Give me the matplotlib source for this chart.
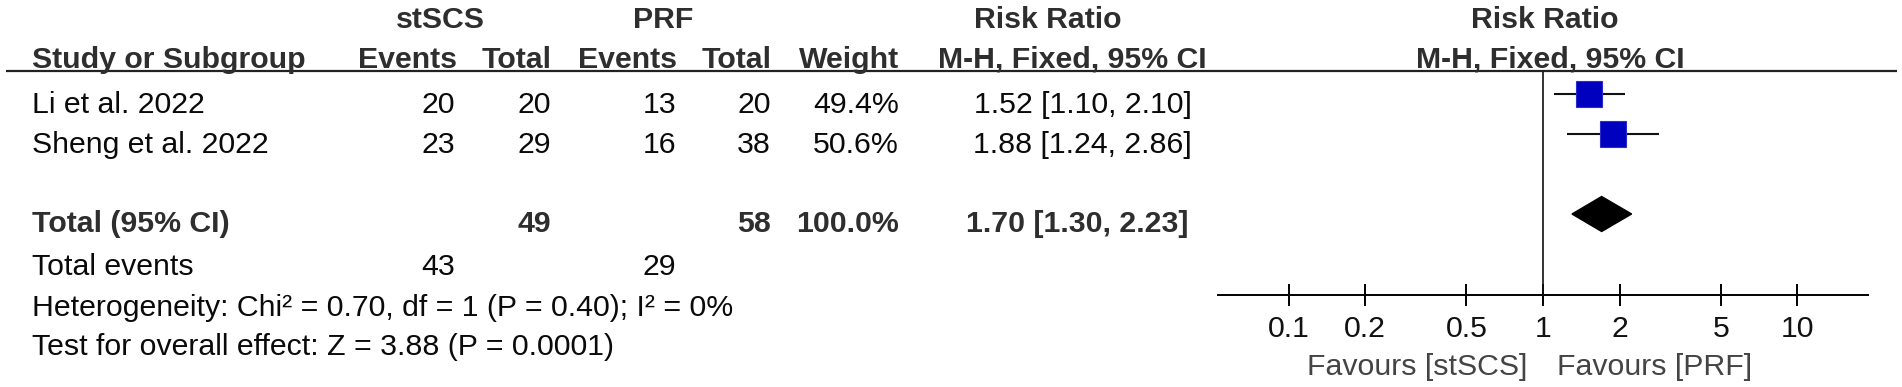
import matplotlib
matplotlib.use("Agg")
import matplotlib.pyplot as plt
import numpy as np

# Study data
studies = ["Li et al. 2022", "Sheng et al. 2022"]
scs_events = [20, 23]
scs_total = [20, 29]
prf_events = [13, 16]
prf_total = [20, 38]
weights = [49.4, 50.6]
rr = [1.52, 1.88]
ci_low = [1.10, 1.24]
ci_high = [2.10, 2.86]

# Pooled result
total_scs = 49
total_prf = 58
events_scs = 43
events_prf = 29
pooled = [1.70, 1.30, 2.23]
heterogeneity = "Heterogeneity: Chi² = 0.70, df = 1 (P = 0.40); I² = 0%"
overall = "Test for overall effect: Z = 3.88 (P = 0.0001)"

ticks = [0.1, 0.2, 0.5, 1, 2, 5, 10]
tick_labels = ["0.1", "0.2", "0.5", "1", "2", "5", "10"]
favours = ["Favours [stSCS]", "Favours [PRF]"]

W, H = 1902, 387
FS = 21.8
plt.rcParams['font.family'] = ['Liberation Sans', 'DejaVu Sans']

fig = plt.figure(figsize=(W / 100, H / 100), dpi=100)
bg = fig.add_axes([0, 0, 1, 1])
bg.set_xlim(0, W)
bg.set_ylim(H, 0)
bg.axis('off')

head = dict(fontsize=FS, fontweight='bold', color='#2e2e2e', va='baseline')
body = dict(fontsize=FS, color='#0a0a0a', va='baseline')

# column right edges (px)
c_se, c_st, c_pe, c_pt, c_w, c_rr = 455, 551, 676, 771, 899, 1192

# headers
bg.text(440, 28, "stSCS", ha='center', **head)
bg.text(663, 28, "PRF", ha='center', **head)
bg.text(1048, 28, "Risk Ratio", ha='center', **head)
bg.text(1545, 28, "Risk Ratio", ha='center', **head)
bg.text(32, 68, "Study or Subgroup", ha='left', **head)
bg.text(457, 68, "Events", ha='right', **head)
bg.text(552, 68, "Total", ha='right', **head)
bg.text(677, 68, "Events", ha='right', **head)
bg.text(772, 68, "Total", ha='right', **head)
bg.text(899, 68, "Weight", ha='right', **head)
bg.text(1072, 68, "M-H, Fixed, 95% CI", ha='center', **head)
bg.text(1550, 68, "M-H, Fixed, 95% CI", ha='center', **head)
bg.hlines(71, 6, 1897, color='#222222', lw=1.6)

# study rows
row_base = [113, 153]
for i, name in enumerate(studies):
    y = row_base[i]
    bg.text(32, y, name, ha='left', **body)
    bg.text(c_se, y, str(scs_events[i]), ha='right', **body)
    bg.text(c_st, y, str(scs_total[i]), ha='right', **body)
    bg.text(c_pe, y, str(prf_events[i]), ha='right', **body)
    bg.text(c_pt, y, str(prf_total[i]), ha='right', **body)
    bg.text(c_w, y, f"{weights[i]:.1f}%", ha='right', **body)
    bg.text(c_rr, y, f"{rr[i]:.2f} [{ci_low[i]:.2f}, {ci_high[i]:.2f}]", ha='right', **body)

# total row
bg.text(32, 232, "Total (95% CI)", ha='left', **head)
bg.text(c_st, 232, str(total_scs), ha='right', **head)
bg.text(c_pt, 232, str(total_prf), ha='right', **head)
bg.text(c_w, 232, f"{sum(weights):.1f}%", ha='right', **head)
bg.text(c_rr - 4, 232, f"{pooled[0]:.2f} [{pooled[1]:.2f}, {pooled[2]:.2f}]", ha='right', **head)

bg.text(32, 275, "Total events", ha='left', **body)
bg.text(c_se, 275, str(events_scs), ha='right', **body)
bg.text(c_pe, 275, str(events_prf), ha='right', **body)
bg.text(32, 316, heterogeneity, ha='left', **body)
bg.text(32, 355, overall, ha='left', **body)

# forest panel (log scale)
x0, xw = 1212, 662
ax = fig.add_axes([x0 / W, 0, xw / W, 1])
ax.set_xscale('log')
ax.set_xlim(0.05, 20)
ax.set_ylim(H, 0)
ax.patch.set_visible(False)
for s in ['top', 'left', 'right']:
    ax.spines[s].set_visible(False)
ax.spines['bottom'].set_position(('data', 295))
ax.spines['bottom'].set_bounds(0.053, 19)
ax.spines['bottom'].set_linewidth(1.4)
ax.set_yticks([])
ax.set_xticks(ticks)
ax.set_xticklabels([])
ax.tick_params(axis='x', which='both', direction='inout', length=16, width=1.4)
ax.minorticks_off()

ax.vlines(1, 72, 295, color='#111111', lw=1.2)

mark_y = [94, 134]
for i in range(len(studies)):
    ax.hlines(mark_y[i], ci_low[i], ci_high[i], color='#111111', lw=1.5)
    side_px = 25.5 * np.sqrt(weights[i] / 50)
    ax.plot(rr[i], mark_y[i], marker='s', ms=side_px * 0.72,
            mfc='#0000BF', mec='#2a2ad0', mew=0.8)

dy = 214
ax.fill([pooled[1], pooled[0], pooled[2], pooled[0]],
        [dy, dy - 17.5, dy, dy + 17.5], color='black')

for t, lab in zip(ticks, tick_labels):
    ax.text(t, 337, lab, ha='center', va='baseline', fontsize=FS, color='#111111')
ax.text(0.865, 375, favours[0], ha='right', va='baseline', fontsize=FS, color='#444444')
ax.text(1.135, 375, favours[1], ha='left', va='baseline', fontsize=FS, color='#444444')

fig.savefig("out.png", dpi=100)
